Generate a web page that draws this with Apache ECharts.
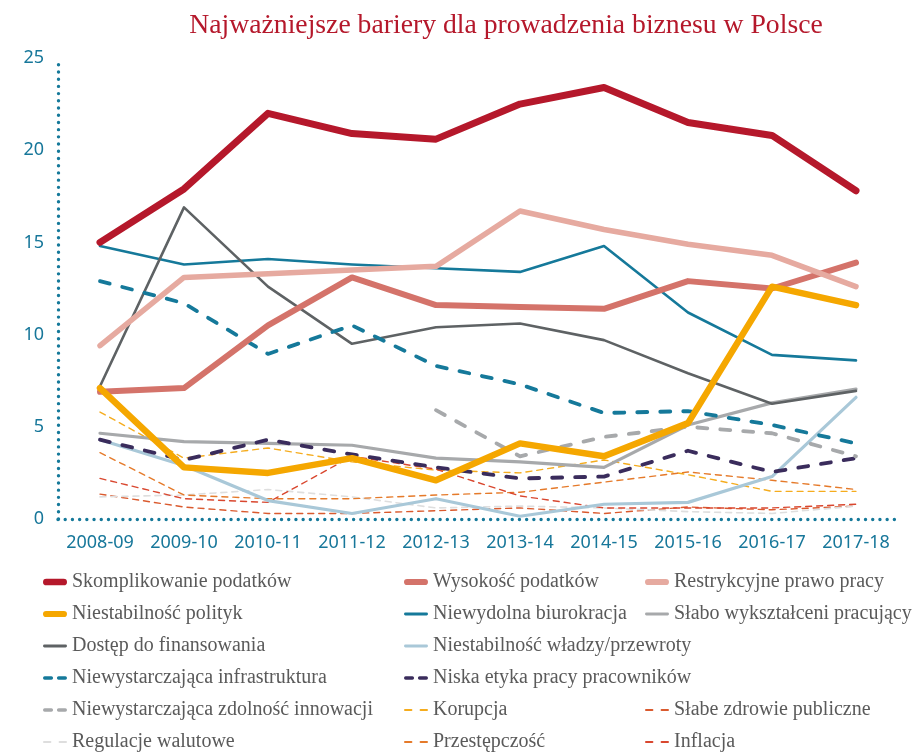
<!DOCTYPE html>
<html>
<head>
<meta charset="utf-8">
<script src="https://cdn.jsdelivr.net/npm/echarts@6/dist/echarts.min.js"></script>
<style>
  html, body { margin: 0; padding: 0; background: #fff; }
  #chart { width: 922px; height: 753px; }
</style>
</head>
<body>
<div id="chart"></div>
<script>
// Survey years
const years = ['2008-09', '2009-10', '2010-11', '2011-12', '2012-13', '2013-14', '2014-15', '2015-16', '2016-17', '2017-18'];

// Share of responses (%) for each barrier
const skomplikowaniePodatkow = [15.0, 17.9, 22.0, 20.9, 20.6, 22.5, 23.4, 21.5, 20.8, 17.8];
const wysokoscPodatkow       = [6.9, 7.1, 10.5, 13.1, 11.6, 11.5, 11.4, 12.9, 12.5, 13.9];
const restrykcyjnePrawo      = [9.4, 13.1, 13.3, 13.5, 13.7, 16.7, 15.7, 14.9, 14.3, 12.6];
const niestabilnoscPolityk   = [7.1, 2.8, 2.5, 3.3, 2.1, 4.1, 3.4, 5.2, 12.6, 11.6];
const niewydolnaBiurokracja  = [14.8, 13.8, 14.1, 13.8, 13.6, 13.4, 14.8, 11.2, 8.9, 8.6];
const slaboWyksztalceni      = [4.65, 4.2, 4.1, 4.0, 3.3, 3.1, 2.8, 5.1, 6.3, 7.05];
const dostepDoFinansowania   = [7.2, 16.9, 12.6, 9.5, 10.4, 10.6, 9.7, 7.9, 6.25, 6.95];
const niestabilnoscWladzy    = [4.3, 2.9, 1.0, 0.3, 1.1, 0.15, 0.8, 0.9, 2.3, 6.6];
const infrastruktura         = [12.9, 11.7, 8.95, 10.5, 8.3, 7.3, 5.75, 5.85, 5.1, 4.1];
const niskaEtyka             = [4.3, 3.2, 4.3, 3.5, 2.8, 2.2, 2.3, 3.7, 2.55, 3.3];
const zdolnoscInnowacji      = [null, null, null, null, 5.9, 3.4, 4.45, 5.0, 4.65, 3.4];
const korupcja               = [5.8, 3.3, 3.85, 3.1, 2.65, 2.5, 3.2, 2.4, 1.5, 1.5];
const slabeZdrowie           = [1.35, 0.65, 0.3, 0.3, 0.45, 0.6, 0.3, 0.65, 0.5, 0.7];
const regulacjeWalutowe      = [1.2, 1.3, 1.6, 1.2, 0.6, 0.7, 0.6, 0.4, 0.3, 0.7];
const przestepczosc          = [3.6, 1.3, 1.1, 1.1, 1.3, 1.45, 2.0, 2.55, 2.1, 1.6];
const inflacja               = [2.2, 1.1, 0.9, 3.4, 2.7, 1.25, 0.6, 0.6, 0.6, 0.8];

const TEAL = '#15799A';

// Legend icon shapes: a rounded bar of a given thickness, or two short dashes
function pill(h) {
  const r = h / 2;
  return 'path://M' + r + ',0 H' + (25 - r) + ' A' + r + ',' + r + ' 0 0 1 ' + (25 - r) + ',' + h +
         ' H' + r + ' A' + r + ',' + r + ' 0 0 1 ' + r + ',0 Z';
}
function dashes(h, len, gap) {
  const r = h / 2;
  const seg = (x0) => 'M' + (x0 + r) + ',0 H' + (x0 + len - r) + ' A' + r + ',' + r + ' 0 0 1 ' + (x0 + len - r) + ',' + h +
                      ' H' + (x0 + r) + ' A' + r + ',' + r + ' 0 0 1 ' + (x0 + r) + ',0 Z';
  return 'path://' + seg(0) + ' ' + seg(len + gap);
}

function line(name, data, color, width, opts) {
  opts = opts || {};
  return {
    name: name,
    type: 'line',
    data: data,
    color: color,
    symbol: 'none',
    showSymbol: false,
    connectNulls: false,
    z: opts.z || 2,
    lineStyle: {
      color: color,
      width: width,
      type: opts.dash || 'solid',
      cap: 'round',
      join: 'round'
    },
    emphasis: { disabled: true },
    animation: false
  };
}

const series = [
  line('Skomplikowanie podatków', skomplikowaniePodatkow, '#B5182B', 7, { z: 6 }),
  line('Wysokość podatków', wysokoscPodatkow, '#D4736A', 6, { z: 4 }),
  line('Restrykcyjne prawo pracy', restrykcyjnePrawo, '#E6AAA0', 5.5, { z: 4 }),
  line('Niestabilność polityk', niestabilnoscPolityk, '#F5A700', 6.5, { z: 5 }),
  line('Niewydolna biurokracja', niewydolnaBiurokracja, TEAL, 2.6, { z: 3 }),
  line('Słabo wykształceni pracujący', slaboWyksztalceni, '#A7A9AB', 3.2, { z: 3 }),
  line('Dostęp do finansowania', dostepDoFinansowania, '#5E6264', 2.6, { z: 3 }),
  line('Niestabilność władzy/przewroty', niestabilnoscWladzy, '#A9C8D8', 3.2, { z: 3 }),
  line('Niewystarczająca infrastruktura', infrastruktura, TEAL, 3.8, { z: 3, dash: [10, 13] }),
  line('Niska etyka pracy pracowników', niskaEtyka, '#3A2C5C', 3.8, { z: 3, dash: [10, 13] }),
  line('Niewystarczająca zdolność innowacji', zdolnoscInnowacji, '#A7A9AB', 3.8, { z: 3, dash: [10, 13] }),
  line('Korupcja', korupcja, '#F5AC1E', 1.4, { z: 1, dash: [6, 5] }),
  line('Słabe zdrowie publiczne', slabeZdrowie, '#DA5A2E', 1.4, { z: 1, dash: [6, 5] }),
  line('Regulacje walutowe', regulacjeWalutowe, '#DEDEDE', 1.6, { z: 1, dash: [6, 5] }),
  line('Przestępczość', przestepczosc, '#E57A2A', 1.4, { z: 1, dash: [6, 5] }),
  line('Inflacja', inflacja, '#D9472F', 1.4, { z: 1, dash: [6, 5] })
];

const icons = {
  'Skomplikowanie podatków': pill(7),
  'Wysokość podatków': pill(6.5),
  'Restrykcyjne prawo pracy': pill(6.5),
  'Niestabilność polityk': pill(6.5),
  'Niewydolna biurokracja': pill(3),
  'Słabo wykształceni pracujący': pill(3),
  'Dostęp do finansowania': pill(3),
  'Niestabilność władzy/przewroty': pill(3),
  'Niewystarczająca infrastruktura': dashes(3.5, 10.5, 4),
  'Niska etyka pracy pracowników': dashes(3.5, 10.5, 4),
  'Niewystarczająca zdolność innowacji': dashes(3.5, 10.5, 4),
  'Korupcja': dashes(1.6, 7, 6),
  'Słabe zdrowie publiczne': dashes(1.6, 7, 6),
  'Regulacje walutowe': dashes(1.6, 7, 6),
  'Przestępczość': dashes(1.6, 7, 6),
  'Inflacja': dashes(1.6, 7, 6)
};

const ROW0 = 572, PITCH = 32;
function legendBlock(names, left, row) {
  return {
    orient: 'vertical',
    left: left,
    top: ROW0 + row * PITCH,
    height: 200,
    itemWidth: 24,
    itemHeight: 20,
    itemGap: 12,
    padding: 0,
    selectedMode: false,
    textStyle: {
      fontFamily: 'Liberation Serif',
      fontSize: 20,
      lineHeight: 20,
      color: '#5A5A5A'
    },
    data: names.map(n => ({ name: n, icon: icons[n] }))
  };
}

const option = {
  backgroundColor: '#ffffff',
  animation: false,
  title: {
    text: 'Najważniejsze bariery dla prowadzenia biznesu w Polsce',
    left: 501,
    textAlign: 'center',
    top: 7,
    textStyle: {
      fontFamily: 'Liberation Serif',
      fontWeight: 'normal',
      fontSize: 27.7,
      color: '#B5182B'
    }
  },
  legend: [
    legendBlock(['Skomplikowanie podatków', 'Niestabilność polityk', 'Dostęp do finansowania',
                 'Niewystarczająca infrastruktura', 'Niewystarczająca zdolność innowacji', 'Regulacje walutowe'], 43, 0),
    legendBlock(['Wysokość podatków', 'Niewydolna biurokracja', 'Niestabilność władzy/przewroty',
                 'Niska etyka pracy pracowników', 'Korupcja', 'Przestępczość'], 404, 0),
    legendBlock(['Restrykcyjne prawo pracy', 'Słabo wykształceni pracujący'], 645, 0),
    legendBlock(['Słabe zdrowie publiczne', 'Inflacja'], 645, 4)
  ],
  grid: {
    left: 58,
    right: 24,
    top: 58,
    bottom: 234,
    containLabel: false
  },
  xAxis: {
    type: 'category',
    data: years,
    boundaryGap: true,
    axisTick: { show: false },
    axisLine: {
      show: true,
      lineStyle: { color: TEAL, width: 3.4, type: [0.01, 7.2], cap: 'round' }
    },
    axisLabel: {
      interval: 0,
      margin: 15,
      fontFamily: 'Noto Sans',
      fontSize: 18,
      color: '#17779A'
    },
    splitLine: { show: false }
  },
  yAxis: {
    type: 'value',
    min: 0,
    max: 25,
    interval: 5,
    axisTick: { show: false },
    axisLine: {
      show: true,
      lineStyle: { color: TEAL, width: 3.4, type: [0.01, 7.2], cap: 'round' }
    },
    axisLabel: {
      margin: 14,
      fontFamily: 'Noto Sans',
      fontSize: 18,
      color: '#17779A'
    },
    splitLine: { show: false }
  },
  series: series
};

const chart = echarts.init(document.getElementById('chart'), null, { renderer: 'canvas' });
chart.setOption(option);
</script>
</body>
</html>
